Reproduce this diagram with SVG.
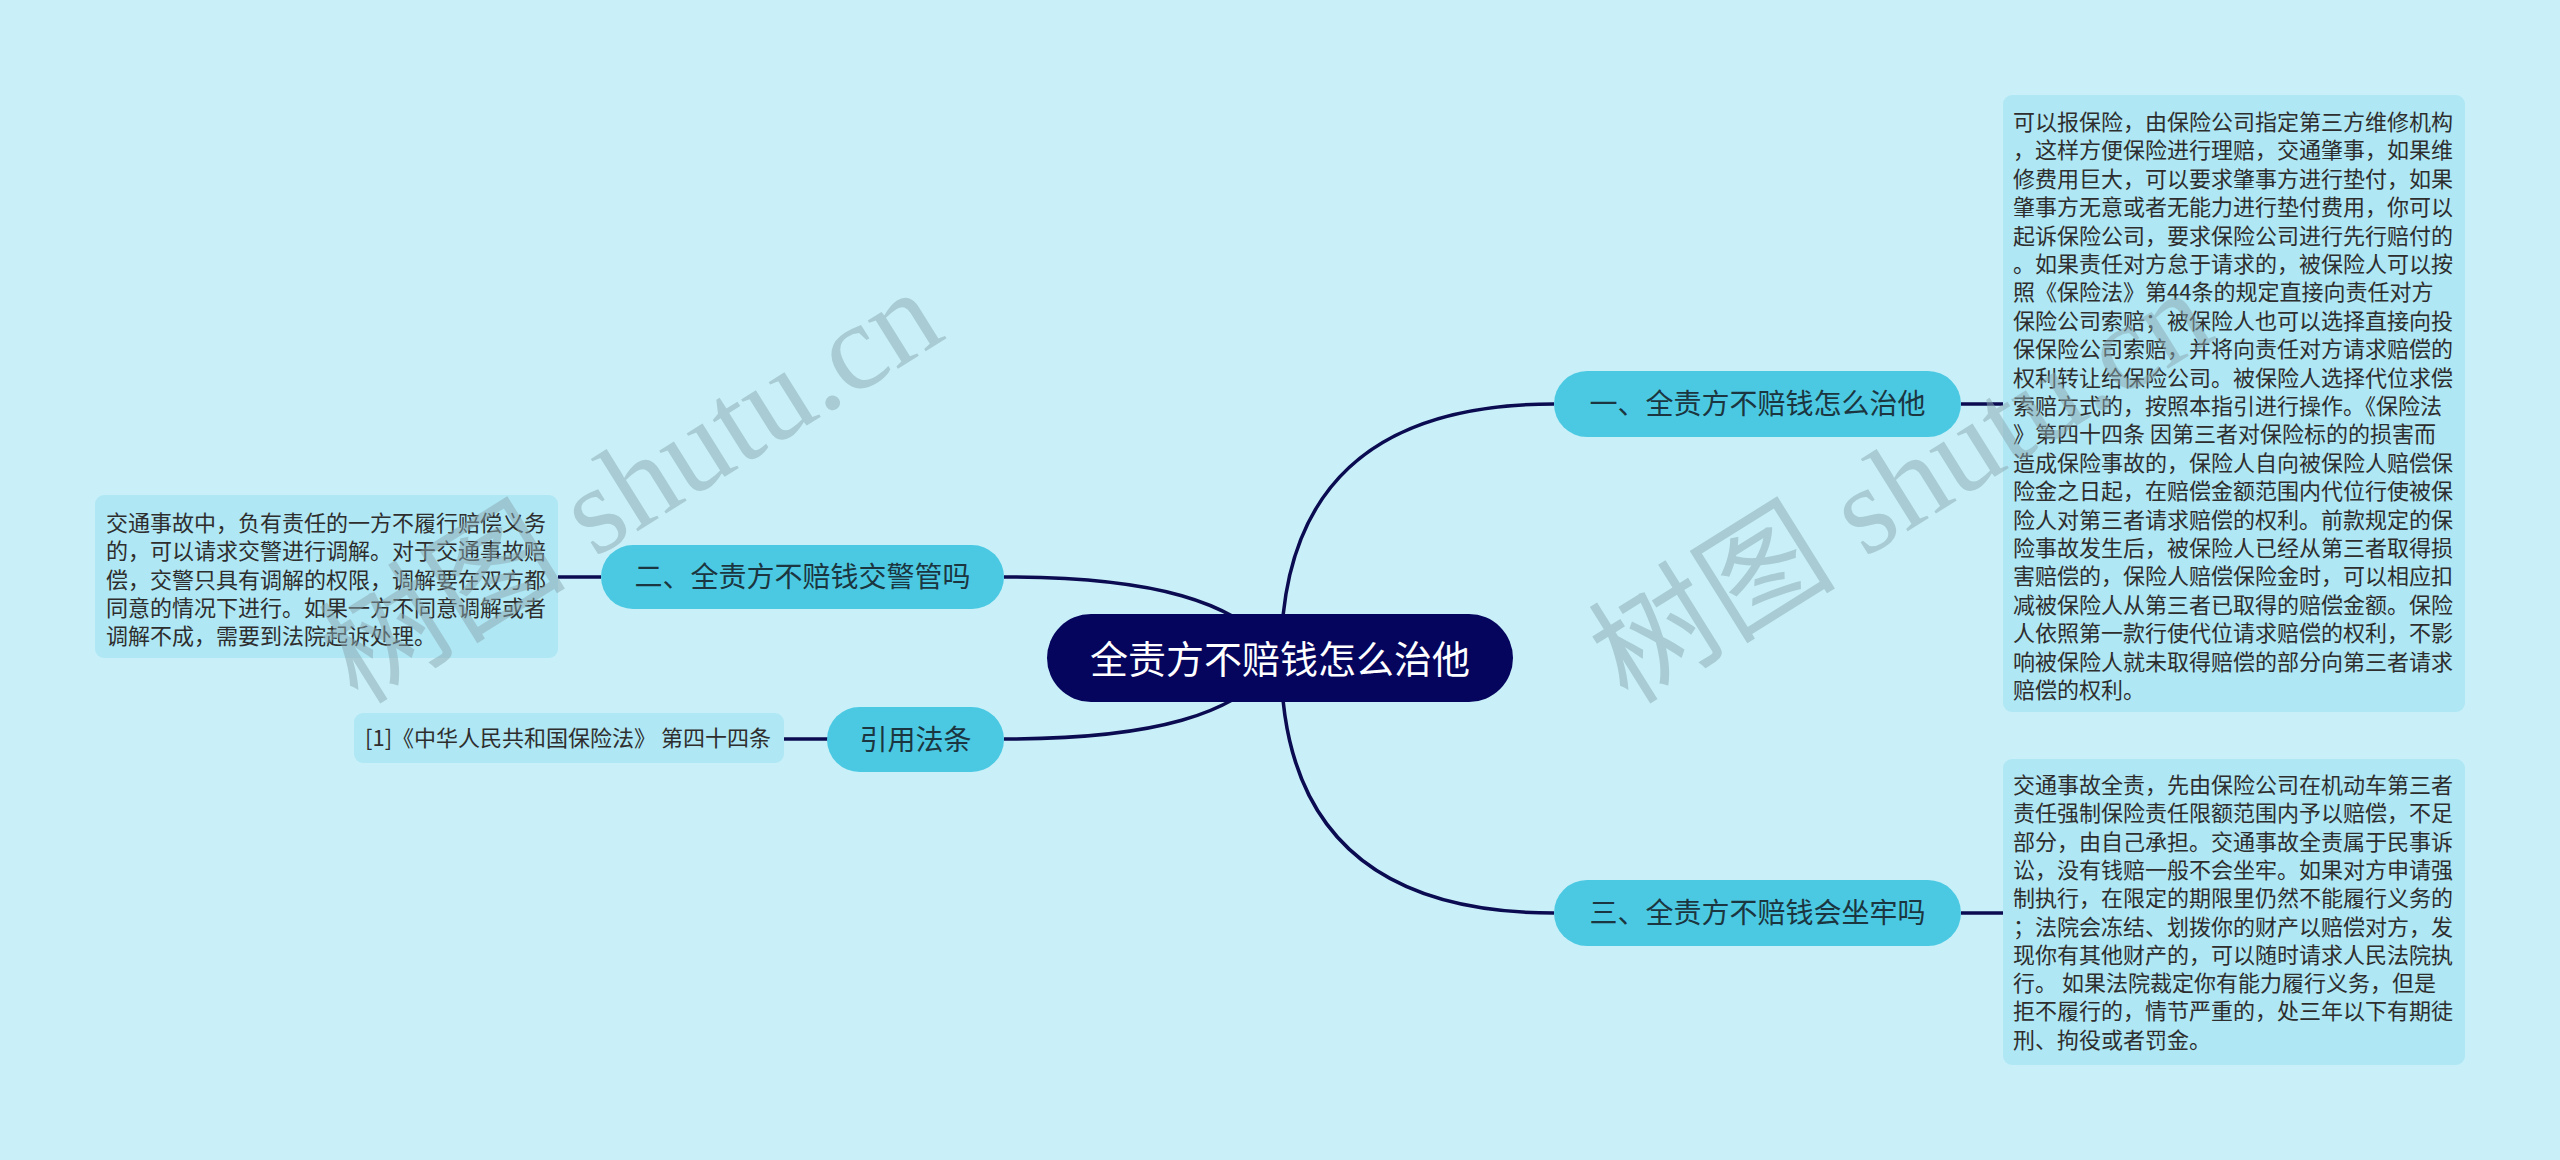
<svg xmlns="http://www.w3.org/2000/svg" width="2560" height="1160" viewBox="0 0 2560 1160">
<style>
text{font-family:"Noto Sans CJK SC","Noto Sans",sans-serif}
.bg{fill:#c9f0f8}
.topic{fill:#4bc9e3}
.topic-t{font-size:28px;fill:#1b3640;text-anchor:middle}
.box{fill:#afe7f4}
.box-t{font-size:22px;fill:#2e2e2e}
.root{fill:#05055e}
.root-t{font-size:38px;fill:#ffffff;text-anchor:middle}
.link{fill:none;stroke:#0b0b52;stroke-width:3.5}
.wm{font-family:"Liberation Serif","Noto Sans CJK SC",serif;font-size:124px;fill:#8aa8b0;fill-opacity:0.5}
</style>
<rect class="bg" x="0" y="0" width="2560" height="1160"/>
<g id="connectors">
<path class="link" d="M1281,658 C1281,490 1370,404 1554,404"/>
<path class="link" d="M1281,658 C1281,826 1370,913 1554,913"/>
<path class="link" d="M1280,658 C1240,600 1150,577 1004,577"/>
<path class="link" d="M1280,658 C1240,716 1150,739 1004,739"/>
<path class="link" d="M1961,404 L2003,404"/>
<path class="link" d="M1961,913 L2003,913"/>
<path class="link" d="M601,577 L558,577"/>
<path class="link" d="M828,739 L784,739"/>
</g>
<g id="root">
<rect class="root" x="1047" y="614" width="466" height="88" rx="44"/>
<text class="root-t" x="1280" y="673">全责方不赔钱怎么治他</text>
</g>
<g id="topic1">
<rect class="topic" x="1554" y="371" width="407" height="66" rx="33"/>
<text class="topic-t" x="1757.5" y="414">一、全责方不赔钱怎么治他</text>
</g>
<g id="topic3">
<rect class="topic" x="1554" y="880" width="407" height="66" rx="33"/>
<text class="topic-t" x="1757.5" y="923">三、全责方不赔钱会坐牢吗</text>
</g>
<g id="topic2">
<rect class="topic" x="601" y="545" width="403" height="64" rx="32"/>
<text class="topic-t" x="802.5" y="587">二、全责方不赔钱交警管吗</text>
</g>
<g id="topic4">
<rect class="topic" x="827" y="707" width="177" height="65" rx="32.5"/>
<text class="topic-t" x="915.5" y="750">引用法条</text>
</g>
<g id="note1">
<rect class="box" x="2003" y="95" width="462" height="617" rx="9"/>
<text class="box-t" x="2013">
<tspan x="2013" y="130">可以报保险，由保险公司指定第三方维修机构</tspan>
<tspan x="2013" y="158.4">，这样方便保险进行理赔，交通肇事，如果维</tspan>
<tspan x="2013" y="186.8">修费用巨大，可以要求肇事方进行垫付，如果</tspan>
<tspan x="2013" y="215.2">肇事方无意或者无能力进行垫付费用，你可以</tspan>
<tspan x="2013" y="243.6">起诉保险公司，要求保险公司进行先行赔付的</tspan>
<tspan x="2013" y="272">。如果责任对方怠于请求的，被保险人可以按</tspan>
<tspan x="2013" y="300.4">照《保险法》第44条的规定直接向责任对方</tspan>
<tspan x="2013" y="328.8">保险公司索赔；被保险人也可以选择直接向投</tspan>
<tspan x="2013" y="357.2">保保险公司索赔，并将向责任对方请求赔偿的</tspan>
<tspan x="2013" y="385.6">权利转让给保险公司。被保险人选择代位求偿</tspan>
<tspan x="2013" y="414">索赔方式的，按照本指引进行操作。《保险法</tspan>
<tspan x="2013" y="442.4">》第四十四条 因第三者对保险标的的损害而</tspan>
<tspan x="2013" y="470.8">造成保险事故的，保险人自向被保险人赔偿保</tspan>
<tspan x="2013" y="499.2">险金之日起，在赔偿金额范围内代位行使被保</tspan>
<tspan x="2013" y="527.6">险人对第三者请求赔偿的权利。前款规定的保</tspan>
<tspan x="2013" y="556">险事故发生后，被保险人已经从第三者取得损</tspan>
<tspan x="2013" y="584.4">害赔偿的，保险人赔偿保险金时，可以相应扣</tspan>
<tspan x="2013" y="612.8">减被保险人从第三者已取得的赔偿金额。保险</tspan>
<tspan x="2013" y="641.2">人依照第一款行使代位请求赔偿的权利，不影</tspan>
<tspan x="2013" y="669.6">响被保险人就未取得赔偿的部分向第三者请求</tspan>
<tspan x="2013" y="698">赔偿的权利。</tspan>
</text>
</g>
<g id="note3">
<rect class="box" x="2003" y="759" width="462" height="306" rx="9"/>
<text class="box-t">
<tspan x="2013" y="793">交通事故全责，先由保险公司在机动车第三者</tspan>
<tspan x="2013" y="821.3">责任强制保险责任限额范围内予以赔偿，不足</tspan>
<tspan x="2013" y="849.6">部分，由自己承担。交通事故全责属于民事诉</tspan>
<tspan x="2013" y="877.9">讼，没有钱赔一般不会坐牢。如果对方申请强</tspan>
<tspan x="2013" y="906.2">制执行，在限定的期限里仍然不能履行义务的</tspan>
<tspan x="2013" y="934.5">；法院会冻结、划拨你的财产以赔偿对方，发</tspan>
<tspan x="2013" y="962.8">现你有其他财产的，可以随时请求人民法院执</tspan>
<tspan x="2013" y="991.1">行。 如果法院裁定你有能力履行义务，但是</tspan>
<tspan x="2013" y="1019.4">拒不履行的，情节严重的，处三年以下有期徒</tspan>
<tspan x="2013" y="1047.7">刑、拘役或者罚金。</tspan>
</text>
</g>
<g id="note2">
<rect class="box" x="95" y="495" width="463" height="163" rx="9"/>
<text class="box-t">
<tspan x="106" y="531">交通事故中，负有责任的一方不履行赔偿义务</tspan>
<tspan x="106" y="559.3">的，可以请求交警进行调解。对于交通事故赔</tspan>
<tspan x="106" y="587.6">偿，交警只具有调解的权限，调解要在双方都</tspan>
<tspan x="106" y="615.9">同意的情况下进行。如果一方不同意调解或者</tspan>
<tspan x="106" y="644.2">调解不成，需要到法院起诉处理。</tspan>
</text>
</g>
<g id="note4">
<rect class="box" x="354" y="713" width="430" height="50" rx="9"/>
<text class="box-t" x="365" y="746">[1]《中华人民共和国保险法》 第四十四条</text>
</g>
<g id="watermarks">
<text class="wm" transform="translate(358,706) rotate(-32)">树图 shutu.cn</text>
<text class="wm" transform="translate(1628,706) rotate(-32)">树图 shutu.cn</text>
</g>
</svg>
